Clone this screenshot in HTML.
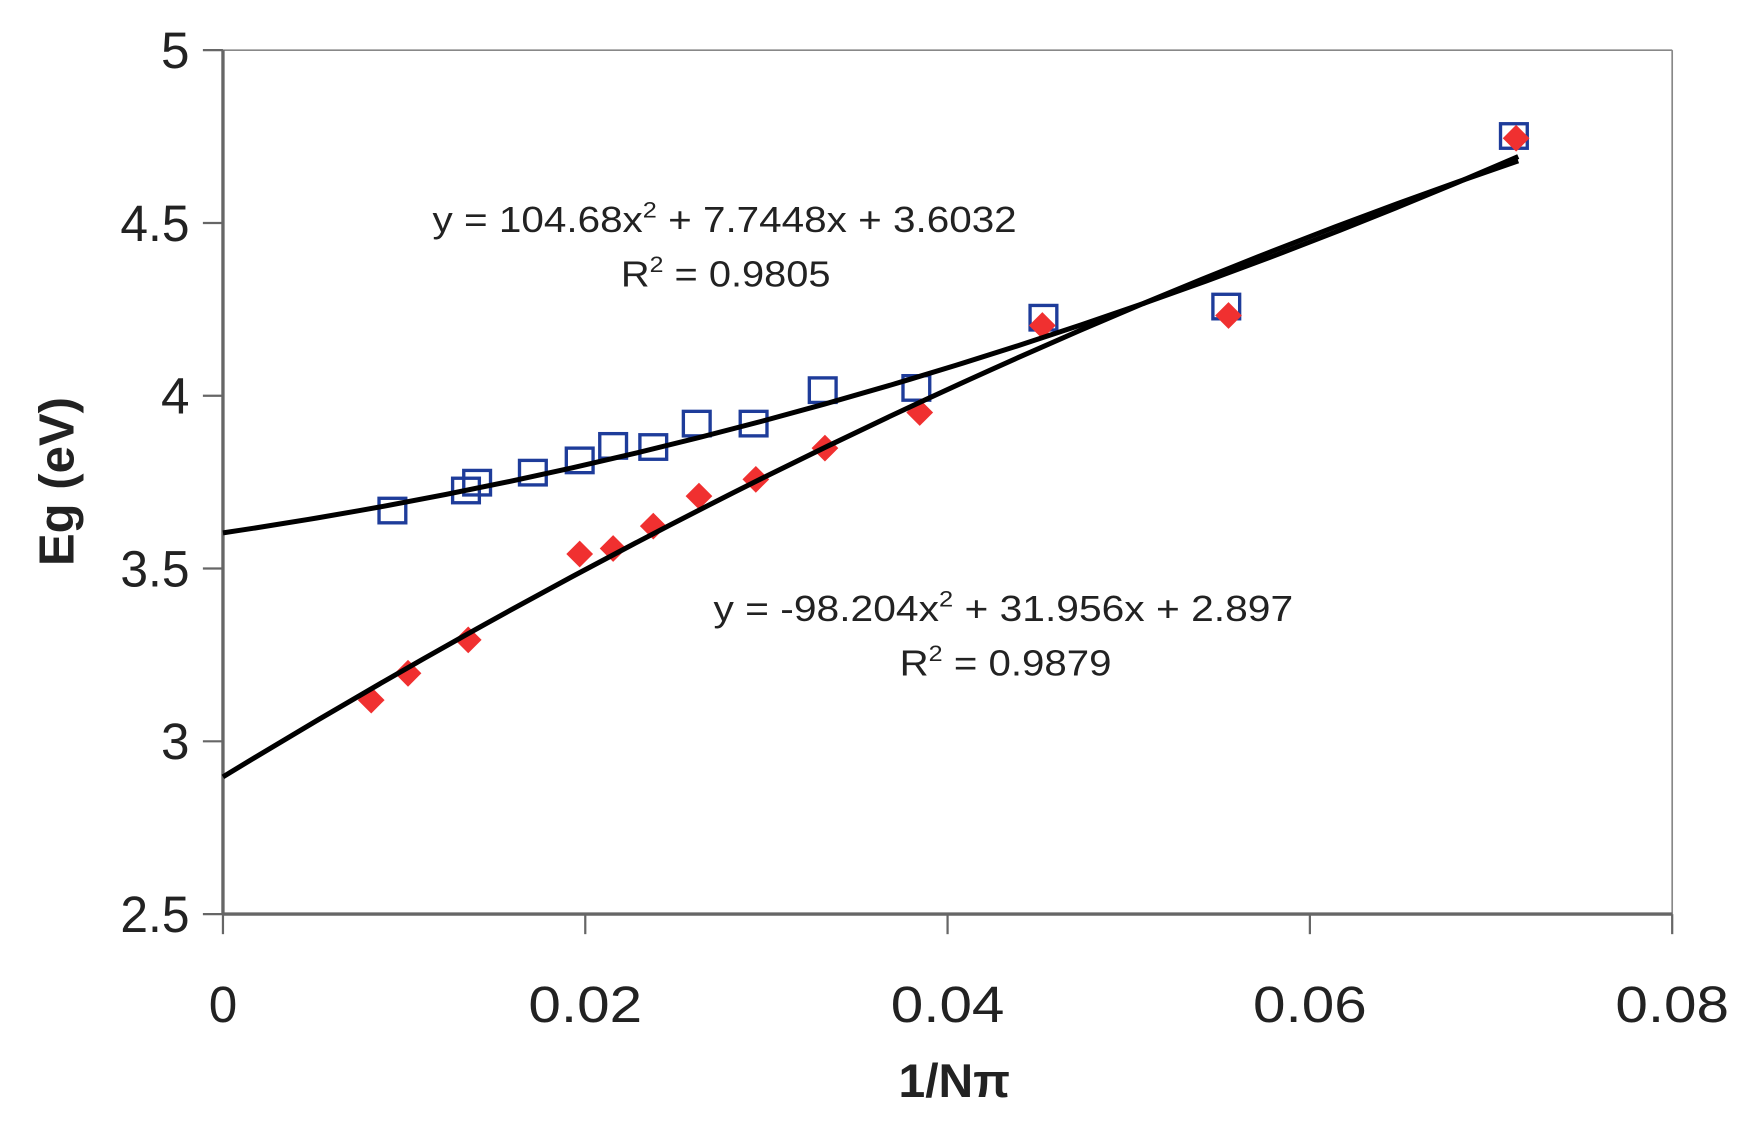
<!DOCTYPE html>
<html><head><style>html,body{margin:0;padding:0;background:#fff}svg{display:block}</style></head>
<body>
<svg width="1748" height="1122" viewBox="0 0 1568 1006.5" preserveAspectRatio="none" xmlns="http://www.w3.org/2000/svg" font-family="Liberation Sans, Arial, sans-serif">
<rect width="1568" height="1006.5" fill="#fff"/>
<g stroke="#888" stroke-width="1.5" fill="none">
<line x1="200" y1="45" x2="1500" y2="45"/>
<line x1="1500" y1="45" x2="1500" y2="820"/>
</g>
<g stroke="#666" stroke-width="3" fill="none">
<line x1="200" y1="45" x2="200" y2="820"/>
<line x1="200" y1="820" x2="1500" y2="820"/>
</g>
<g stroke="#666" stroke-width="2">
<line x1="182" y1="45" x2="200" y2="45"/><line x1="182" y1="200" x2="200" y2="200"/>
<line x1="182" y1="355" x2="200" y2="355"/><line x1="182" y1="510" x2="200" y2="510"/>
<line x1="182" y1="665" x2="200" y2="665"/><line x1="182" y1="820" x2="200" y2="820"/>
<line x1="200" y1="820" x2="200" y2="838"/><line x1="525" y1="820" x2="525" y2="838"/>
<line x1="850" y1="820" x2="850" y2="838"/><line x1="1175" y1="820" x2="1175" y2="838"/>
<line x1="1500" y1="820" x2="1500" y2="838"/>
</g>
<g font-size="46" fill="#222" text-anchor="end">
<text x="170" y="61">5</text><text x="170" y="216" textLength="62" lengthAdjust="spacingAndGlyphs">4.5</text><text x="170" y="371">4</text>
<text x="170" y="526" textLength="62" lengthAdjust="spacingAndGlyphs">3.5</text><text x="170" y="681">3</text><text x="170" y="836" textLength="62" lengthAdjust="spacingAndGlyphs">2.5</text>
</g>
<g font-size="46" fill="#222" text-anchor="middle">
<text x="200" y="917">0</text>
<text x="525" y="917" textLength="102" lengthAdjust="spacingAndGlyphs">0.02</text>
<text x="850" y="917" textLength="102" lengthAdjust="spacingAndGlyphs">0.04</text>
<text x="1175" y="917" textLength="102" lengthAdjust="spacingAndGlyphs">0.06</text>
<text x="1500" y="917" textLength="102" lengthAdjust="spacingAndGlyphs">0.08</text>
</g>
<text x="856" y="984" font-size="42" font-weight="bold" text-anchor="middle" fill="#222" textLength="100" lengthAdjust="spacingAndGlyphs">1/Nπ</text>
<text transform="translate(66,432) rotate(-90)" font-size="44" font-weight="bold" text-anchor="middle" fill="#222">Eg (eV)</text>
<g font-size="32" fill="#222">
<text x="388" y="208" textLength="524" lengthAdjust="spacingAndGlyphs">y = 104.68x<tspan font-size="20" dy="-13">2</tspan><tspan dy="13"> + 7.7448x + 3.6032</tspan></text>
<text x="557" y="257" textLength="188" lengthAdjust="spacingAndGlyphs">R<tspan font-size="20" dy="-13">2</tspan><tspan dy="13"> = 0.9805</tspan></text>
<text x="640" y="557" textLength="520" lengthAdjust="spacingAndGlyphs">y = -98.204x<tspan font-size="20" dy="-13">2</tspan><tspan dy="13"> + 31.956x + 2.897</tspan></text>
<text x="807" y="606" textLength="190" lengthAdjust="spacingAndGlyphs">R<tspan font-size="20" dy="-13">2</tspan><tspan dy="13"> = 0.9879</tspan></text>
</g>
<g fill="none" stroke="#1e3c9a" stroke-width="3">
<rect x="340" y="447" width="24" height="22"/><rect x="406" y="429" width="24" height="22"/>
<rect x="416" y="422" width="24" height="22"/><rect x="466" y="413" width="24" height="22"/>
<rect x="508" y="402" width="24" height="22"/><rect x="538" y="389" width="24" height="22"/>
<rect x="574" y="390" width="24" height="22"/><rect x="613" y="369" width="24" height="22"/>
<rect x="664" y="369" width="24" height="22"/><rect x="726" y="339" width="24" height="22"/>
<rect x="810" y="337" width="24" height="22"/><rect x="924" y="274" width="24" height="22"/>
<rect x="1088" y="264" width="24" height="22"/><rect x="1346" y="111" width="24" height="22"/>
</g>
<g fill="#f03030">
<path d="M333,616 l12,12 l-12,12 l-12,-12z"/><path d="M366,592 l12,12 l-12,12 l-12,-12z"/>
<path d="M420,562 l12,12 l-12,12 l-12,-12z"/><path d="M520,485 l12,12 l-12,12 l-12,-12z"/>
<path d="M550,480 l12,12 l-12,12 l-12,-12z"/><path d="M586,460 l12,12 l-12,12 l-12,-12z"/>
<path d="M627,433 l12,12 l-12,12 l-12,-12z"/><path d="M678,418 l12,12 l-12,12 l-12,-12z"/>
<path d="M740,390 l12,12 l-12,12 l-12,-12z"/><path d="M825,358 l12,12 l-12,12 l-12,-12z"/>
<path d="M935,280 l12,12 l-12,12 l-12,-12z"/><path d="M1102,271 l12,12 l-12,12 l-12,-12z"/>
<path d="M1360,112 l12,12 l-12,12 l-12,-12z"/>
</g>
<g fill="none" stroke="#000" stroke-width="4.5">
<path d="M200,478 Q780.9,392.2 1361.9,140.4"/>
<path d="M200,696.9 Q780.9,342.8 1361.9,144.3"/>
</g>
</svg>
</body></html>
